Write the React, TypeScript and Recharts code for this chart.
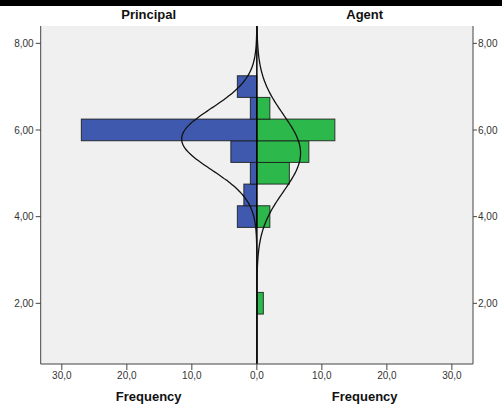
import {
  ComposedChart, Bar, Line, XAxis, YAxis, ReferenceLine, CartesianGrid,
} from 'recharts';

// histogram bins (bin width 0.5) for each group
const binCenters = [2.0, 4.0, 4.5, 5.0, 5.5, 6.0, 6.5, 7.0];
const principalFreq = [0, 3, 2, 1, 4, 27, 1, 3];
const agentFreq = [1, 2, 0, 5, 8, 12, 2, 0];

const yTicks = [2, 4, 6, 8];
const xTicks = [-30, -20, -10, 0, 10, 20, 30];

const BIN_WIDTH = 0.5;
const Y_DOMAIN: [number, number] = [0.6, 8.4];
const X_DOMAIN: [number, number] = [-33.25, 33.25];
const W = 502;
const H = 407;
const M_TOP = 26;
const X_AXIS_H = 43;
// pixel thickness of one bin along the value axis
const BIN_PX = (BIN_WIDTH * (H - M_TOP - X_AXIS_H)) / (Y_DOMAIN[1] - Y_DOMAIN[0]);

const BLUE = '#3e59ad';
const GREEN = '#2db84b';

function stats(freq: number[]) {
  const n = freq.reduce((s, f) => s + f, 0);
  const mean = freq.reduce((s, f, i) => s + f * binCenters[i], 0) / n;
  const ss = freq.reduce((s, f, i) => s + f * (binCenters[i] - mean) ** 2, 0);
  return { n, mean, sd: Math.sqrt(ss / (n - 1)) };
}

// expected frequency under a fitted normal, scaled to the bin width
function normalCount(y: number, s: { n: number; mean: number; sd: number }) {
  const z = (y - s.mean) / s.sd;
  return (s.n * BIN_WIDTH * Math.exp(-0.5 * z * z)) / (s.sd * Math.sqrt(2 * Math.PI));
}

const pStats = stats(principalFreq);
const aStats = stats(agentFreq);

const binRows = binCenters.map((v, i) => ({
  v,
  principal: -principalFreq[i],
  agent: agentFreq[i],
}));

// normal curves sampled every 0.05 along the value axis
const curveRows = Array.from({ length: 157 }, (_, i) => {
  const v = (12 + i) / 20;
  return { v, pCurve: -normalCount(v, pStats), aCurve: normalCount(v, aStats) };
});

const fmtY = (v: number) => v.toFixed(2).replace('.', ',');
const fmtX = (v: number) => Math.abs(v).toFixed(1).replace('.', ',');

// recharts hands a thin band for a numeric category axis, so widen each bar to a full bin
function BinBar(props: any) {
  const { x, y, width, height, fill } = props;
  if (!width || x == null || y == null) return null;
  const cy = y + height / 2;
  const x0 = Math.min(x, x + width);
  return (
    <rect
      x={x0}
      y={cy - BIN_PX / 2}
      width={Math.abs(width)}
      height={BIN_PX}
      fill={fill}
      stroke="#1a1a1a"
      strokeOpacity={0.85}
      strokeWidth={1}
    />
  );
}

const tickStyle = { fontSize: 10, fill: '#333', fontFamily: 'Liberation Sans, Arial, sans-serif' };
const titleStyle: React.CSSProperties = {
  position: 'absolute',
  width: 216,
  textAlign: 'center',
  fontFamily: 'Liberation Sans, Arial, sans-serif',
  fontWeight: 'bold',
  fontSize: 13,
  color: '#111',
  lineHeight: '16px',
};

export default function App() {
  return (
    <div style={{ position: 'fixed', left: 0, top: 0, width: W, height: H, background: '#fff' }}>
      <div style={{ position: 'absolute', left: 0, top: 0, width: W, height: 6, background: '#000' }} />
      <ComposedChart
        width={W}
        height={H}
        data={binRows}
        layout="vertical"
        stackOffset="sign"
        barCategoryGap={0}
        barGap={0}
        margin={{ top: M_TOP, right: 0, bottom: 0, left: 0 }}
      >
        <CartesianGrid fill="#f0f0f0" horizontal={false} vertical={false} />
        <XAxis
          type="number"
          domain={X_DOMAIN}
          ticks={xTicks}
          tickFormatter={fmtX}
          tick={tickStyle}
          tickSize={6}
          tickMargin={2}
          height={X_AXIS_H}
          axisLine={{ stroke: '#444' }}
          tickLine={{ stroke: '#444' }}
        />
        <XAxis
          xAxisId="top"
          orientation="top"
          type="number"
          domain={X_DOMAIN}
          height={0}
          tick={false}
          tickLine={false}
          axisLine={{ stroke: '#444' }}
        />
        <YAxis
          yAxisId={0}
          type="number"
          dataKey="v"
          domain={Y_DOMAIN}
          reversed
          ticks={yTicks}
          tickFormatter={fmtY}
          tick={tickStyle}
          tickSize={5}
          tickMargin={2}
          width={40.7}
          axisLine={{ stroke: '#444' }}
          tickLine={{ stroke: '#444' }}
        />
        <YAxis
          yAxisId="right"
          orientation="right"
          type="number"
          dataKey="v"
          domain={Y_DOMAIN}
          reversed
          allowDataOverflow
          ticks={yTicks}
          tickFormatter={fmtY}
          tick={tickStyle}
          tickSize={4}
          tickMargin={1}
          width={29}
          axisLine={{ stroke: '#444' }}
          tickLine={{ stroke: '#444' }}
        />
        <Bar dataKey="principal" stackId="f" fill={BLUE} shape={BinBar} isAnimationActive={false} />
        <Bar dataKey="agent" stackId="f" fill={GREEN} shape={BinBar} isAnimationActive={false} />
        <ReferenceLine x={0} stroke="#000" strokeWidth={1.5} />
        <Line data={curveRows} dataKey="pCurve" type="monotone" stroke="#111" strokeWidth={1.3} dot={false} isAnimationActive={false} />
        <Line data={curveRows} dataKey="aCurve" type="monotone" stroke="#111" strokeWidth={1.3} dot={false} isAnimationActive={false} />
      </ComposedChart>
      <div style={{ ...titleStyle, left: 40.7, top: 7 }}>Principal</div>
      <div style={{ ...titleStyle, left: 256.7, top: 7 }}>Agent</div>
      <div style={{ ...titleStyle, left: 40.7, top: 389 }}>Frequency</div>
      <div style={{ ...titleStyle, left: 256.7, top: 389 }}>Frequency</div>
    </div>
  );
}
